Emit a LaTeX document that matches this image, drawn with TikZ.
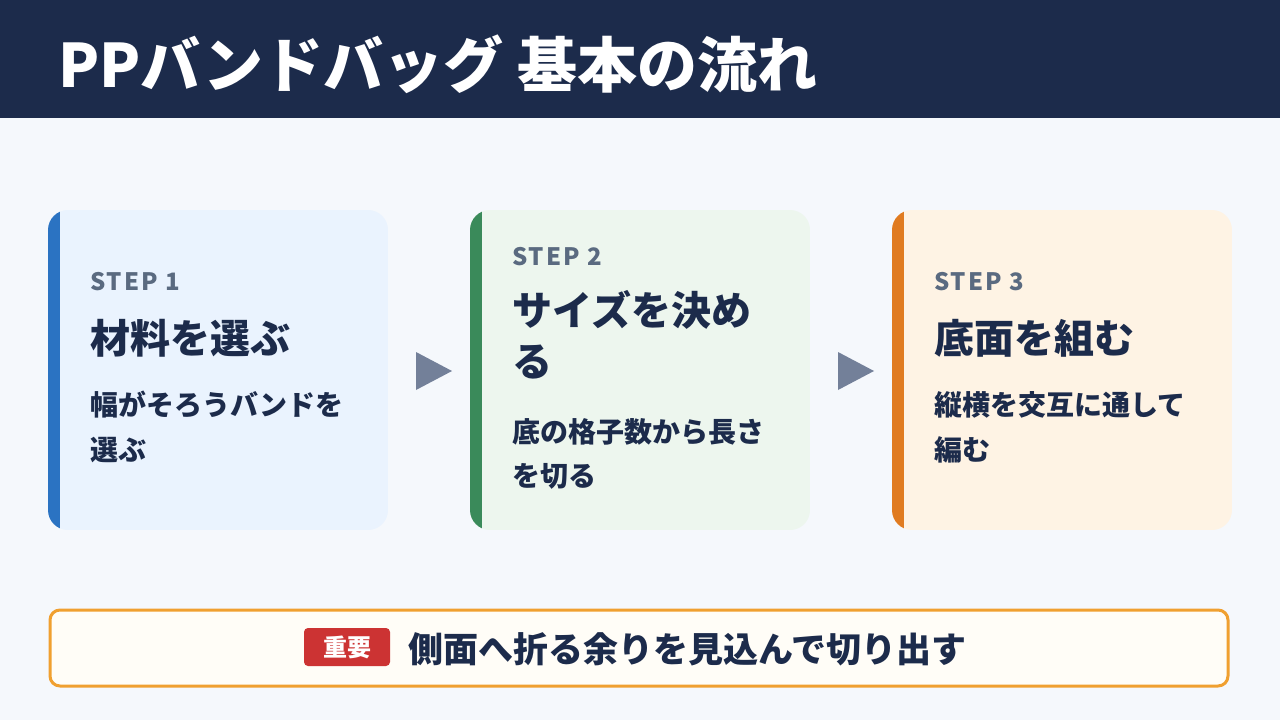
\documentclass[tikz,border=0pt]{standalone}
\usepackage{fontspec}
\setmainfont{Noto Sans CJK JP}
\begin{document}
\definecolor{navy}{HTML}{1C2B4B}
\definecolor{bg}{HTML}{F5F8FC}
\definecolor{stepc}{HTML}{5A6A80}
\definecolor{arr}{HTML}{738099}
\definecolor{cb}{HTML}{2B73C2}\definecolor{fb}{HTML}{EAF3FE}
\definecolor{cg}{HTML}{3A8A5A}\definecolor{fg}{HTML}{EDF6EE}
\definecolor{co}{HTML}{E07B20}\definecolor{fo}{HTML}{FEF3E4}
\definecolor{ob}{HTML}{F0A030}
\definecolor{notebg}{HTML}{FFFDF7}
\definecolor{badgered}{HTML}{CC3333}
\begin{tikzpicture}[x=1pt,y=-1pt,
  stp/.style={anchor=west,inner sep=0,font=\fontsize{24}{24}\bfseries\addfontfeatures{LetterSpace=8}\selectfont,text=stepc},
  ttl/.style={anchor=west,inner sep=0,font=\fontsize{40}{40}\bfseries\selectfont,text=navy},
  body/.style={anchor=west,inner sep=0,font=\fontsize{28}{28}\bfseries\selectfont,text=navy},
  tri/.style={fill=arr}]
\useasboundingbox (0,0) rectangle (1280,720);
\fill[bg] (0,0) rectangle (1280,720);
\fill[navy] (0,0) rectangle (1280,118);
\node[anchor=west,inner sep=0,text=white,font=\fontsize{60}{60}\bfseries\selectfont] (title) at (58,64) {PPバンドバッグ 基本の流れ};
% cards
\foreach \x/\c/\f in {48/cb/fb,470/cg/fg,892/co/fo}{
  \begin{scope}
  \clip[rounded corners=20] (\x,210) rectangle (\x+340,530);
  \fill[\f] (\x,210) rectangle (\x+340,530);
  \fill[\c] (\x-2,208) rectangle (\x+12,532);
  \end{scope}
}
\node[stp] (s1) at (90,282) {STEP 1};
\node[ttl] (t1) at (90,338) {材料を選ぶ};
\node[body] (b1a) at (90,405) {幅がそろうバンドを};
\node[body] (b1b) at (90,450) {選ぶ};
\node[stp] (s2) at (512,257) {STEP 2};
\node[ttl] (t2a) at (512,310) {サイズを決め};
\node[ttl] (t2b) at (512,362) {る};
\node[body] (b2a) at (512,432) {底の格子数から長さ};
\node[body] (b2b) at (512,476) {を切る};
\node[stp] (s3) at (934,282) {STEP 3};
\node[ttl] (t3) at (934,338) {底面を組む};
\node[body] (b3a) at (934,405) {縦横を交互に通して};
\node[body] (b3b) at (934,450) {編む};
\fill[tri] (416,352) -- (452,371) -- (416,390) -- cycle;
\fill[tri] (838,352) -- (874,371) -- (838,390) -- cycle;
% bottom
\draw[ob,line width=3,fill=notebg,rounded corners=10] (50,610) rectangle (1228,686);
\node[fill=badgered,rounded corners=4,text=white,font=\fontsize{24}{24}\bfseries\selectfont,minimum width=86,minimum height=38,inner sep=0] (badge) at (347,647) {重要};
\node[anchor=west,inner sep=0,text=navy,font=\fontsize{35}{35}\bfseries\selectfont] (note) at (408,649) {側面へ折る余りを見込んで切り出す};
\end{tikzpicture}
\end{document}
